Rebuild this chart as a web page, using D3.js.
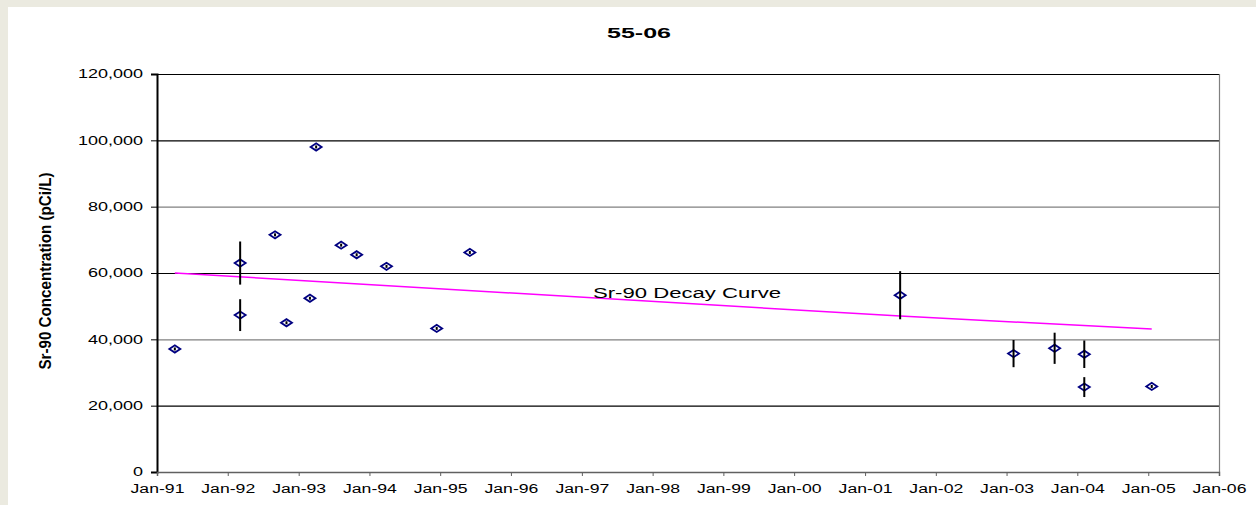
<!DOCTYPE html>
<html>
<head>
<meta charset="utf-8">
<script src="https://cdn.jsdelivr.net/npm/d3@7/dist/d3.min.js"></script>
<style>
	body { margin: 0; background: #ebeae0; }
	svg { display: block; }
	text { font-family: Arial, "Liberation Sans", sans-serif; }
</style>
</head>
<body>
<svg id="chart" width="1256" height="505"></svg>
<script>
// sample dates and Sr-90 values (pCi/L)
var sampleDates = ["1991-04-03", "1992-03-05", "1992-03-05", "1992-09-01", "1992-10-30",
	"1993-02-28", "1993-04-01", "1993-08-08", "1993-10-27", "1994-03-30", "1994-12-14",
	"1995-06-03", "2001-07-01", "2003-02-06", "2003-09-06", "2004-02-06", "2004-02-06",
	"2005-01-19"];
var sampleValues = [37100, 63000, 47300, 71500, 45000, 52400, 98000, 68400, 65500,
	62000, 43300, 66200, 53300, 35700, 37300, 35500, 25600, 25800];
var sampleErrors = [0, 6500, 4800, 0, 0, 0, 0, 0, 0, 0, 0, 0, 7250, 4100, 4700, 4150, 3000, 0];

// decay curve
var decayDates = ["1991-04-03", "2001-07-01", "2005-01-19"];
var decayValues = [60000, 47000, 43100];

var yTicks = [0, 20000, 40000, 60000, 80000, 100000, 120000];
var gridColors = ["#000", "#808080", "#000", "#808080", "#000"]; // 20k .. 100k

draw_chart();

function draw_chart() {
	var parseDate = d3.timeParse("%Y-%m-%d");

	var samples = sampleDates.map(function(d, i) {
		return { date: parseDate(d), value: sampleValues[i], err: sampleErrors[i] };
	});
	var decay = decayDates.map(function(d, i) {
		return { date: parseDate(d), value: decayValues[i] };
	});

	var svg = d3.select("#chart");

	// white panel
	svg.append("rect")
		.attr("x", 8).attr("y", 7)
		.attr("width", 1256 - 8).attr("height", 505 - 7)
		.attr("fill", "#fff");

	var plotLeft = 157, plotRight = 1219, plotTop = 74, plotBottom = 472;
	var sx = 1.5; // the picture is stretched sideways

	var x = d3.scaleTime()
		.domain([new Date(1991, 0, 1), new Date(2006, 0, 1)])
		.range([plotLeft, plotRight]);
	var y = d3.scaleLinear()
		.domain([0, 120000])
		.range([plotBottom, plotTop]);

	// gridlines
	svg.append("g").selectAll("line")
		.data(yTicks.slice(1, 6))
		.enter().append("line")
		.attr("x1", plotLeft).attr("x2", plotRight)
		.attr("y1", function(d) { return y(d) + 0.5; })
		.attr("y2", function(d) { return y(d) + 0.5; })
		.attr("stroke", function(d, i) { return gridColors[i]; })
		.attr("stroke-width", 1.2);

	// top and right frame
	svg.append("line")
		.attr("x1", plotLeft).attr("x2", plotRight)
		.attr("y1", y(120000) + 0.5).attr("y2", y(120000) + 0.5)
		.attr("stroke", "#000").attr("stroke-width", 1.2);
	svg.append("line")
		.attr("x1", plotRight + 0.5).attr("x2", plotRight + 0.5)
		.attr("y1", plotTop).attr("y2", plotBottom)
		.attr("stroke", "#808080").attr("stroke-width", 1.2);

	// y axis
	var yAxis = svg.append("g")
		.attr("transform", "translate(" + plotLeft + ",0)")
		.call(d3.axisLeft(y)
			.tickValues(yTicks)
			.tickSize(6)
			.tickFormat(d3.format(",")));
	yAxis.select(".domain").attr("stroke", "#000").attr("stroke-width", 2);
	yAxis.selectAll(".tick line").attr("stroke", "#000");
	yAxis.selectAll(".tick text")
		.attr("x", -14 / sx)
		.attr("transform", "scale(" + sx + ",1)")
		.attr("font-size", 12)
		.attr("font-family", "Arial, 'Liberation Sans', sans-serif")
		.attr("fill", "#000");

	// x axis
	var xAxis = svg.append("g")
		.attr("transform", "translate(0," + plotBottom + ")")
		.call(d3.axisBottom(x)
			.ticks(d3.timeYear.every(1))
			.tickSize(4)
			.tickPadding(8.5)
			.tickFormat(d3.timeFormat("%b-%y")));
	xAxis.select(".domain").attr("stroke", "#606060").attr("stroke-width", 1.5);
	xAxis.selectAll(".tick line").attr("stroke", "#606060");
	xAxis.selectAll(".tick text")
		.attr("transform", "scale(" + (sx - 0.03) + ",1)")
		.attr("font-size", 12)
		.attr("font-family", "Arial, 'Liberation Sans', sans-serif")
		.attr("fill", "#000");

	// decay curve
	svg.append("path")
		.datum(decay)
		.attr("d", d3.line()
			.x(function(d) { return x(d.date); })
			.y(function(d) { return y(d.value); }))
		.attr("fill", "none")
		.attr("stroke", "#ff00ff")
		.attr("stroke-width", 1.5);

	svg.append("text")
		.attr("x", 593).attr("y", 298)
		.attr("font-size", 14)
		.attr("textLength", 188)
		.attr("lengthAdjust", "spacingAndGlyphs")
		.text("Sr-90 Decay Curve");

	// markers
	var pts = svg.append("g").selectAll(".pt")
		.data(samples)
		.enter().append("g")
		.attr("class", "pt")
		.attr("transform", function(d) {
			return "translate(" + x(d.date) + "," + y(d.value) + ")";
		});

	pts.append("path")
		.attr("d", "M-5.5,0L0,-3.6L5.5,0L0,3.6Z")
		.attr("fill", "#fff")
		.attr("stroke", "#000080")
		.attr("stroke-width", 1.8);

	// error bars (and the little centre tick every point has)
	pts.append("line")
		.attr("x1", 0).attr("x2", 0)
		.attr("y1", function(d) { return d.err ? y(d.value + d.err) - y(d.value) : -1.5; })
		.attr("y2", function(d) { return d.err ? y(d.value - d.err) - y(d.value) : 1.5; })
		.attr("stroke", "#000")
		.attr("stroke-width", 2);

	// title
	svg.append("text")
		.attr("x", 607).attr("y", 38)
		.attr("font-size", 15)
		.attr("font-weight", "bold")
		.attr("textLength", 64)
		.attr("lengthAdjust", "spacingAndGlyphs")
		.text("55-06");

	// y label, squeezed like the original
	svg.append("text")
		.attr("transform", "translate(51,271) rotate(-90)")
		.attr("text-anchor", "middle")
		.attr("font-size", 17)
		.attr("font-weight", "bold")
		.attr("textLength", 197)
		.attr("lengthAdjust", "spacingAndGlyphs")
		.text("Sr-90 Concentration (pCi/L)");
}
</script>
</body>
</html>
